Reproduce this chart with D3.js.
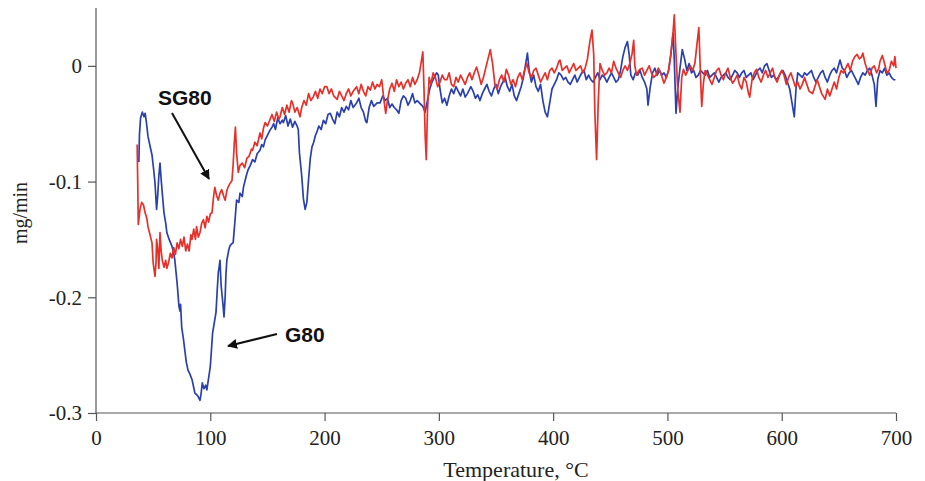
<!DOCTYPE html>
<html><head><meta charset="utf-8">
<script src="https://cdn.jsdelivr.net/npm/d3@7"></script>
<style>body{margin:0;background:#fff}svg{display:block}</style>
</head><body><svg id="c" width="925" height="481"></svg>
<script>
const xTicks=[0,100,200,300,400,500,600,700];
const yTicks=[0,-0.1,-0.2,-0.3];
const yTickLabels=["0","-0.1","-0.2","-0.3"];
const xLabel="Temperature, °C", yLabel="mg/min";
// G80 (blue)
const g80T=[37.5,38,39,40.5,42,43,44,45.5,47,49,50.5,51.6,53,54,55,56,57,58,59.5,61,62,64,66.5,68,69,70,71,72.6,73.5,74,75,76.5,78,79,80.5,82,84,85.5,86.6,88,89.5,91,92,93,94.5,96,97,98.5,100,101,102,103.5,105,106,107,108,108.5,109.5,111,112,113,113.7,114.5,116,117,118.5,120,121.5,123,125,126,128,129,130,131.5,133,135,137,139,141,143.5,145,146.5,148,150,152,154,155.5,157,159,161,163,164,166,168,170,172,174,176,177,178,180,181.5,183,184.5,186,187.5,189,190.5,192,193,195,197,199,201,203,205,207,209,211,213,215,217,219,221,223,225,228,230,232,234,236,237,239,241,243,246,248.5,251,253,255,257,259,261,263,265,267,269,271,273,275,277,279,281,284,286,288,290,292,294,296,298,299.5,301,303,305,307,309,311,313,315,317,319,321,323,325,328,330,332,334,336,338,340,342,344,346,348,350,352,354,356,358,360,362,364,366,368,370,372,374,376,377.5,379,381,383,385,387,389,391,393,395,397,399,401,403,405,407,409,411,413,415,417,419,421,423,425,427,429,431,433,435,437,439,441,443,445,447,449,451,453,455,457,459,461,463,465,466.5,468,470,472,474,476,478,480,482,483,485,487,489,491,493,495,497,499,501,503,505,506,507.5,509,511,513,515,517,519,521,523,525,527,529,531,533,535,537,539,541,543,545,547,549,551,553,555,557,559,561,563,565,567,569,571,573,575,577,579,581,583,585,587,589,591,593,595,597,599,601,603,605,607,609,611,612.5,614,616,618,620,622,624,626,628,630,632,634,636,638,640,642,644,646,648,651,653,655,657,659,661,663,665,667,669,671,673,675,677,679,681,682.5,684,686,688,690,692,694,696,698,699.5];
const g80V=[-0.083,-0.060,-0.045,-0.040,-0.044,-0.041,-0.048,-0.061,-0.068,-0.077,-0.090,-0.101,-0.124,-0.112,-0.095,-0.084,-0.098,-0.110,-0.127,-0.136,-0.144,-0.150,-0.156,-0.162,-0.168,-0.178,-0.188,-0.208,-0.212,-0.206,-0.226,-0.236,-0.248,-0.256,-0.263,-0.266,-0.271,-0.278,-0.283,-0.284,-0.286,-0.289,-0.283,-0.274,-0.279,-0.276,-0.280,-0.270,-0.260,-0.246,-0.231,-0.222,-0.213,-0.195,-0.179,-0.172,-0.168,-0.190,-0.205,-0.217,-0.200,-0.180,-0.168,-0.160,-0.156,-0.154,-0.153,-0.135,-0.116,-0.118,-0.110,-0.113,-0.105,-0.101,-0.095,-0.090,-0.086,-0.081,-0.083,-0.076,-0.073,-0.068,-0.070,-0.064,-0.060,-0.056,-0.053,-0.050,-0.055,-0.045,-0.050,-0.047,-0.049,-0.043,-0.052,-0.046,-0.053,-0.048,-0.052,-0.055,-0.075,-0.095,-0.115,-0.124,-0.118,-0.098,-0.080,-0.070,-0.066,-0.060,-0.058,-0.052,-0.055,-0.047,-0.050,-0.042,-0.041,-0.046,-0.050,-0.040,-0.044,-0.036,-0.040,-0.035,-0.038,-0.030,-0.036,-0.032,-0.028,-0.036,-0.040,-0.048,-0.049,-0.036,-0.030,-0.035,-0.032,-0.032,-0.026,-0.030,-0.028,-0.036,-0.033,-0.036,-0.038,-0.041,-0.030,-0.026,-0.028,-0.034,-0.030,-0.024,-0.032,-0.030,-0.033,-0.035,-0.040,-0.030,-0.020,-0.014,-0.010,-0.006,-0.008,-0.020,-0.032,-0.028,-0.034,-0.026,-0.020,-0.024,-0.018,-0.022,-0.026,-0.020,-0.027,-0.024,-0.018,-0.022,-0.028,-0.025,-0.030,-0.024,-0.020,-0.016,-0.022,-0.026,-0.020,-0.016,-0.024,-0.018,-0.014,-0.010,-0.018,-0.022,-0.016,-0.026,-0.030,-0.024,-0.018,-0.010,0.002,0.011,-0.004,-0.014,-0.008,-0.018,-0.022,-0.016,-0.030,-0.040,-0.044,-0.032,-0.020,-0.016,-0.012,-0.006,-0.008,-0.012,-0.010,-0.014,-0.016,-0.012,-0.008,-0.014,-0.010,-0.006,-0.004,-0.012,-0.008,-0.012,-0.014,-0.010,-0.006,-0.012,-0.008,-0.010,-0.014,-0.010,-0.006,-0.010,-0.014,-0.012,-0.004,0.008,0.016,0.021,0.010,-0.008,-0.012,-0.006,-0.008,-0.004,-0.010,-0.014,-0.020,-0.034,-0.018,-0.006,-0.002,-0.008,-0.004,-0.008,-0.006,-0.010,-0.004,0.010,0.028,0.005,-0.041,-0.020,-0.002,0.014,0.006,-0.004,0.002,-0.006,-0.004,-0.010,-0.008,-0.004,-0.006,-0.008,-0.004,-0.010,-0.008,-0.006,-0.010,-0.014,-0.010,-0.008,-0.006,-0.010,-0.012,-0.008,-0.004,-0.006,-0.010,-0.006,-0.004,-0.010,-0.008,-0.006,-0.012,-0.008,-0.004,-0.002,-0.006,0.000,0.002,-0.004,-0.010,-0.008,-0.012,-0.010,-0.006,-0.004,-0.008,-0.014,-0.020,-0.032,-0.044,-0.020,-0.006,-0.008,-0.010,-0.006,-0.008,-0.006,-0.004,-0.010,-0.014,-0.010,-0.006,-0.004,-0.010,-0.014,-0.008,-0.004,-0.002,-0.006,0.005,-0.002,-0.004,-0.010,-0.006,-0.004,-0.008,-0.012,-0.016,-0.010,-0.006,-0.008,-0.004,-0.002,-0.008,-0.016,-0.035,-0.012,-0.004,-0.006,-0.002,-0.008,-0.006,-0.010,-0.012,-0.012];
// SG80 (red)
const sg80T=[36,36.5,37,38.5,40,41.5,43,44.5,45.5,47,49,50,51.6,52.5,53,54,55,56,57,58,59.5,61,62,63.5,65,66.5,68,69.5,71,72.5,74,75.5,77,78.5,80,81.5,83,84,85.5,87,88,89.5,91,92.5,94,95.5,97,98.5,100,101.5,103,104,105.5,107,108.5,110,111.5,113,114.5,115.5,117,119,120,121,122,123,124.5,126,128,130,132,134,136,137,139,141,143.5,145,146.5,148,150,152,154,156,158,160,161,163,165,167,169,171,172,174,176,178.5,180,182,184,186,188,190,192,194,196,198,200,202,204,206,208,211,213,215,217,219,221,223,225,228,230,232,234,236,238,240,242,244,246,248,250,252,253.5,255,257,259,261,263,265,267,269,271,273,275,277,279,281,283,285,286,287,288,289,290,291.5,293,295,297,299,301,303,305,307,309,311,313,315,317,319,321,323,325,327,329,331,333,335,337,339,341,343,345,347,349,351,353,355,357,359,361,363,365,367,369,371,373,375,377,379,381,383,385,387,389,391,393,395,397,399,401,403,405,406,408,410,412,414,416,418,420,422,424,426,428,430,432,434,435.5,436.5,438,439.5,441,443,445,447,449,451,453,455,457,459,461,463,465,467,469,470.5,471.5,473,475,476,478,480,482,484,486,488,490,492,494,496,497,499,501,503,505,506,507.5,509,511,512.5,514,516,518,520,522,524,526,527.5,529,530,531.5,533,535,537,539,541,543,545,547,549,551,553,555,557,559,561,563,565,567,569,571,572,574,576,578,580,582,584,586,588,590,592,594,596,598,600,602,604,606,608,610,612,614,616,618,620,622,624,627,629,631,633,635,638,640,642,644,646,648,650,652,654,656,658,660,662,664,666,668,670,671,673,675,677,679,681,683,685,686,688,690,692,694,696,698,699,700];
const sg80V=[-0.068,-0.100,-0.137,-0.124,-0.118,-0.120,-0.127,-0.132,-0.139,-0.145,-0.153,-0.170,-0.182,-0.170,-0.150,-0.158,-0.175,-0.144,-0.160,-0.168,-0.174,-0.168,-0.175,-0.170,-0.162,-0.166,-0.157,-0.163,-0.153,-0.158,-0.150,-0.156,-0.148,-0.160,-0.154,-0.160,-0.146,-0.150,-0.141,-0.150,-0.139,-0.148,-0.144,-0.136,-0.133,-0.140,-0.130,-0.135,-0.128,-0.127,-0.112,-0.105,-0.112,-0.116,-0.110,-0.107,-0.112,-0.116,-0.108,-0.105,-0.102,-0.099,-0.085,-0.067,-0.053,-0.075,-0.092,-0.086,-0.084,-0.088,-0.080,-0.078,-0.072,-0.073,-0.066,-0.069,-0.058,-0.063,-0.054,-0.049,-0.052,-0.047,-0.042,-0.048,-0.040,-0.046,-0.044,-0.036,-0.042,-0.034,-0.040,-0.030,-0.032,-0.040,-0.036,-0.044,-0.036,-0.030,-0.034,-0.024,-0.030,-0.027,-0.022,-0.028,-0.020,-0.024,-0.018,-0.018,-0.024,-0.020,-0.026,-0.029,-0.022,-0.026,-0.030,-0.024,-0.020,-0.026,-0.022,-0.018,-0.024,-0.016,-0.022,-0.026,-0.018,-0.021,-0.014,-0.020,-0.016,-0.018,-0.012,-0.030,-0.041,-0.030,-0.020,-0.015,-0.022,-0.012,-0.018,-0.014,-0.020,-0.015,-0.012,-0.018,-0.010,-0.016,-0.012,-0.006,0.006,0.012,-0.020,-0.060,-0.081,-0.040,-0.010,-0.016,-0.006,-0.010,-0.018,-0.014,-0.008,-0.012,-0.012,-0.006,-0.016,-0.018,-0.010,-0.014,-0.008,-0.012,-0.016,-0.010,-0.006,-0.012,-0.006,-0.001,-0.008,-0.016,-0.010,-0.002,0.006,0.014,0.002,-0.016,-0.020,-0.012,-0.008,-0.014,-0.003,-0.008,-0.016,-0.012,-0.018,-0.010,-0.006,-0.012,-0.004,0.002,-0.006,-0.010,-0.004,-0.002,-0.008,-0.014,-0.010,-0.006,-0.012,-0.004,-0.002,-0.006,-0.002,0.004,0.005,-0.004,-0.002,0.000,-0.006,-0.002,0.002,-0.004,-0.002,0.000,-0.006,-0.002,0.006,0.020,0.031,0.010,-0.040,-0.081,-0.030,0.002,-0.004,-0.008,-0.006,-0.002,-0.006,0.004,-0.002,-0.006,-0.010,-0.004,0.000,-0.004,0.002,0.010,0.022,0.000,-0.008,-0.004,-0.003,-0.002,-0.008,-0.004,0.000,-0.006,-0.010,-0.008,-0.002,-0.006,-0.012,-0.015,-0.010,-0.004,0.010,0.030,0.044,0.010,-0.020,-0.040,-0.010,-0.003,-0.008,-0.004,0.000,-0.004,0.002,0.020,0.033,-0.010,-0.035,-0.015,-0.004,-0.008,-0.012,-0.016,-0.010,-0.004,-0.002,-0.008,-0.012,-0.006,-0.002,-0.010,-0.015,-0.012,-0.008,-0.016,-0.020,-0.010,-0.014,-0.024,-0.027,-0.012,-0.006,-0.003,-0.010,-0.014,-0.008,-0.004,-0.010,-0.006,-0.002,-0.010,-0.014,-0.008,-0.004,-0.008,-0.016,-0.010,-0.006,-0.012,-0.018,-0.014,-0.020,-0.016,-0.010,-0.016,-0.022,-0.024,-0.018,-0.012,-0.018,-0.024,-0.029,-0.020,-0.026,-0.020,-0.014,-0.020,-0.010,-0.004,-0.006,-0.002,0.002,-0.004,0.004,0.008,0.010,0.006,0.008,0.011,0.002,-0.004,-0.008,-0.002,0.000,-0.006,-0.002,0.004,0.009,0.002,-0.006,-0.004,0.004,0.000,0.008,-0.002];

const svg=d3.select("#c");
const x=d3.scaleLinear().domain([0,700]).range([96,896]);
const y=d3.scaleLinear().domain([-0.3,0.05]).range([413,8]);
const axisCol="#555";
const font="'Liberation Serif','Times New Roman',serif";

const xa=svg.append("g").attr("transform","translate(0,413)")
  .call(d3.axisBottom(x).tickValues(xTicks).tickSize(8).tickPadding(9).tickFormat(d3.format("d")));
const ya=svg.append("g").attr("transform","translate(96,0)")
  .call(d3.axisLeft(y).tickValues(yTicks).tickSize(8).tickPadding(6).tickFormat((d,i)=>yTickLabels[i]));
ya.select(".domain").remove();
svg.append("line").attr("x1",96).attr("x2",96).attr("y1",y(0.05)).attr("y2",y(-0.3)).attr("stroke",axisCol).attr("stroke-width",1.2);
xa.select(".domain").attr("d",`M${x(0)},0H${x(700)}`);
[xa,ya].forEach(a=>{
  a.selectAll("path,line").attr("stroke",axisCol).attr("stroke-width",1.2);
  a.selectAll("text").attr("fill","#222").style("font-family",font).style("font-size","21px");
});

const line=d3.line().x(d=>x(d[0])).y(d=>y(d[1]));
const g80=g80T.map((t,i)=>[t,g80V[i]]);
const sg80=sg80T.map((t,i)=>[t,sg80V[i]]);
svg.append("path").datum(g80).attr("d",line).attr("fill","none").attr("stroke","#2a40ad").attr("stroke-width",1.7).attr("stroke-linejoin","round");
svg.append("path").datum(sg80).attr("d",line).attr("fill","none").attr("stroke","#e8302a").attr("stroke-width",1.7).attr("stroke-linejoin","round");

svg.append("text").attr("x",516).attr("y",477).attr("text-anchor","middle")
  .style("font-family",font).style("font-size","22px").attr("fill","#222").text(xLabel);
svg.append("text").attr("transform","translate(27,213) rotate(-90)").attr("text-anchor","middle")
  .style("font-family",font).style("font-size","20px").attr("fill","#222").text(yLabel);

// annotations
const defs=svg.append("defs");
defs.append("marker").attr("id","ah").attr("viewBox","0 0 10 10").attr("refX",9).attr("refY",5)
  .attr("markerWidth",5).attr("markerHeight",5).attr("orient","auto")
  .append("path").attr("d","M0,0L10,5L0,10z").attr("fill","#111");
const sans="'Liberation Sans',Arial,sans-serif";
svg.append("text").attr("x",158).attr("y",105).style("font-family",sans).style("font-weight","bold")
  .style("font-size","21px").attr("fill","#111").text("SG80");
svg.append("line").attr("x1",172).attr("y1",113).attr("x2",209).attr("y2",179)
  .attr("stroke","#111").attr("stroke-width",2).attr("marker-end","url(#ah)");
svg.append("text").attr("x",285).attr("y",342).style("font-family",sans).style("font-weight","bold")
  .style("font-size","21px").attr("fill","#111").text("G80");
svg.append("line").attr("x1",277).attr("y1",334).attr("x2",228).attr("y2",346)
  .attr("stroke","#111").attr("stroke-width",2).attr("marker-end","url(#ah)");
</script></body></html>
